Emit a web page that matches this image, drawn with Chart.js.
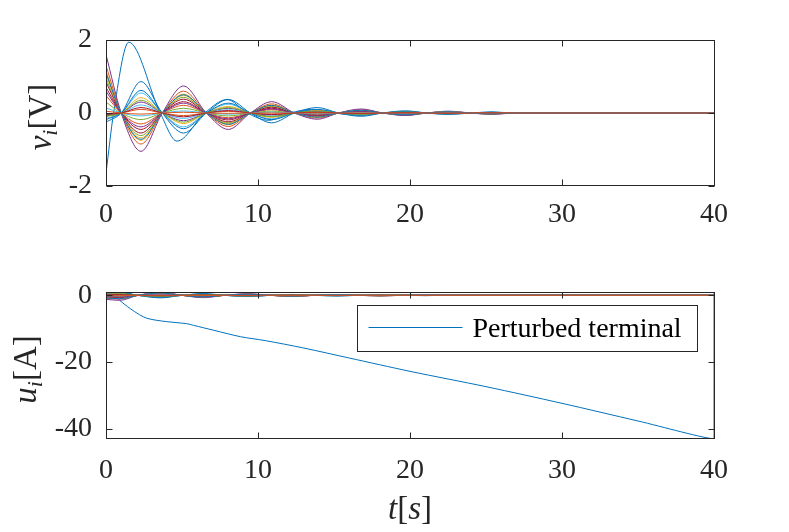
<!DOCTYPE html>
<html>
<head>
<meta charset="utf-8">
<script src="https://cdn.jsdelivr.net/npm/chart.js@4.4.1/dist/chart.umd.min.js"></script>
<style>
  html, body { margin: 0; padding: 0; background: #fff; }
  #wrap { position: relative; width: 789px; height: 532px; }
  #topChart { position: absolute; left: 0; top: 0; }
  #botChart { position: absolute; left: 0; top: 250px; }
</style>
</head>
<body>
<div id="wrap">
  <canvas id="topChart" width="789" height="250"></canvas>
  <canvas id="botChart" width="789" height="282"></canvas>
</div>
<script>
// MATLAB default line colours, cycled per line
const lineColors = ['#0072BD', '#D95319', '#EDB120', '#7E2F8E', '#77AC30', '#4DBEEE', '#A2142F'];

const xTicks = [0, 10, 20, 30, 40];
const vTicks = [-2, 0, 2];
const uTicks = [-40, -20, 0];

const legendLabel = 'Perturbed terminal';

// top panel: perturbed terminal voltage
const pertVTimes = [0, 0.5, 1.5, 3.57, 4.67, 6.5, 7.96, 9.3, 10.7, 12.1, 13.6, 15.0, 16.4, 17.9, 40];
const pertV = [-1.65, 0, 1.94, 0, -0.77, 0, 0.37, 0, -0.2, 0, 0.1, 0, -0.05, 0, 0];

// top panel: other terminals, times of the zero crossings / peaks
const vTimes = [0, 1.0, 2.3, 3.7, 5.1, 6.6, 8.05, 9.5, 10.9, 12.4, 13.9, 15.3, 16.8, 18.2, 19.7, 21.1, 22.5, 24.0, 25.4, 26.9, 40];
// each row: start value, then the peak of every half swing
const vSwings = [
  [1.30, -0.85, 0.60, -0.37, 0.25, -0.14, 0.09, -0.06, 0.04, -0.03],
  [1.15, -0.75, 0.52, -0.32, 0.22, -0.12, 0.08, -0.05, 0.035, -0.027],
  [1.60, -1.05, 0.74, -0.45, 0.31, -0.17, 0.11, -0.07, 0.05, -0.04],
  [0.95, -0.62, 0.43, -0.27, 0.18, -0.10, 0.065, -0.04, 0.03, -0.02],
  [-0.15, 0.55, -0.38, 0.24, -0.16, 0.09, -0.06, 0.04, -0.026, 0.02],
  [0.70, -0.45, 0.31, -0.19, 0.13, -0.07, 0.05, -0.03, 0.02, -0.016],
  [-0.25, 0.86, -0.55, 0.37, -0.27, 0.15, -0.09, 0.06, -0.04, 0.03],
  [0.48, -0.30, 0.21, -0.13, 0.09, -0.05, 0.03, -0.02, 0.014, -0.011],
  [-0.10, 0.42, -0.29, 0.18, -0.12, 0.07, -0.045, 0.03, -0.02, 0.015],
  [-0.08, 0.30, -0.21, 0.13, -0.09, 0.05, -0.03, 0.02, -0.014, 0.011],
  [0.30, -0.18, 0.13, -0.08, 0.05, -0.03, 0.02, -0.012, 0.008, -0.006],
  [-0.05, 0.22, -0.15, 0.09, -0.06, 0.035, -0.023, 0.015, -0.01, 0.008],
  [0.85, -0.55, 0.38, -0.24, 0.16, -0.09, 0.058, -0.037, 0.026, -0.02],
  [-0.18, 0.62, -0.43, 0.27, -0.18, 0.10, -0.065, 0.042, -0.03, 0.022],
  [-0.03, 0.10, -0.07, 0.045, -0.03, 0.016, -0.01, 0.007, -0.005, 0.004],
  [1.05, -0.68, 0.48, -0.29, 0.20, -0.11, 0.07, -0.046, 0.032, -0.024],
  [0.60, -0.38, 0.27, -0.16, 0.11, -0.06, 0.04, -0.026, 0.018, -0.014],
  [-0.09, 0.35, -0.25, 0.15, -0.10, 0.056, -0.037, 0.024, -0.016, 0.013],
  [0.14, -0.08, 0.056, -0.034, 0.023, -0.013, 0.008, -0.005, 0.004, -0.003],
  [-0.04, 0.15, -0.105, 0.065, -0.044, 0.024, -0.016, 0.01, -0.007, 0.005],
  [1.10, -0.72, 0.50, -0.31, 0.21, -0.115, 0.075, -0.05, 0.034, -0.026],
  [0.05, -0.03, 0.02, -0.01, 0, 0, 0, 0, 0, 0]
];

// bottom panel: perturbed terminal current
const pertUTimes = [0, 0.6, 0.9, 1.6, 2.2, 2.7, 3.35, 4.0, 4.67, 5.3, 5.76, 7.1, 8.84, 10.5, 13.0, 16.0, 20.0, 25.0, 30.0, 35.0, 40.0, 40.0];
const pertU = [0.6, 0, -1.5, -4.0, -5.8, -6.9, -7.5, -7.9, -8.2, -8.5, -9.0, -10.5, -12.4, -13.6, -15.8, -18.8, -22.8, -27.4, -32.4, -37.7, -43.0, 0.9];

// bottom panel: other terminals (start value, then the peaks)
const uTimes = [0, 0.9, 2.1, 3.6, 5.0, 6.4, 7.8, 9.35, 10.8, 12.3, 13.7, 15.2, 16.6, 18.05, 19.5, 21.0, 22.4, 40];
const uSwings = [
  [-0.9, -1.1, 0.8, -0.55, 0.4, -0.28, 0.2, -0.13, 0.09],
  [-0.8, -1.0, 0.7, -0.5, 0.35, -0.25, 0.17, -0.12, 0.08],
  [-1.2, -1.5, 1.0, -0.7, 0.5, -0.35, 0.25, -0.17, 0.12],
  [-0.7, -0.85, 0.6, -0.42, 0.3, -0.2, 0.14, -0.1, 0.07],
  [0.5, 0.7, -0.5, 0.35, -0.25, 0.17, -0.12, 0.08, -0.06],
  [-0.5, -0.6, 0.42, -0.3, 0.21, -0.15, 0.1, -0.07, 0.05],
  [0.9, 1.1, -0.75, 0.55, -0.38, 0.27, -0.19, 0.13, -0.09],
  [-0.3, -0.4, 0.28, -0.2, 0.14, -0.1, 0.07, -0.05, 0.03],
  [0.4, 0.55, -0.38, 0.27, -0.19, 0.13, -0.09, 0.06, -0.04],
  [0.3, 0.4, -0.28, 0.2, -0.14, 0.1, -0.07, 0.05, -0.03],
  [-0.2, -0.25, 0.17, -0.12, 0.09, -0.06, 0.04, -0.03, 0.02],
  [0.2, 0.3, -0.2, 0.15, -0.1, 0.07, -0.05, 0.035, -0.025],
  [-0.6, -0.75, 0.52, -0.37, 0.26, -0.18, 0.13, -0.09, 0.06],
  [0.7, 0.85, -0.6, 0.42, -0.3, 0.2, -0.14, 0.1, -0.07],
  [0.1, 0.12, -0.08, 0.06, -0.04, 0.03, -0.02, 0.015, -0.01],
  [-0.75, -0.95, 0.66, -0.46, 0.32, -0.23, 0.16, -0.11, 0.08],
  [-0.4, -0.5, 0.35, -0.25, 0.17, -0.12, 0.08, -0.06, 0.04],
  [0.35, 0.45, -0.32, 0.22, -0.16, 0.11, -0.08, 0.05, -0.04],
  [-0.1, -0.12, 0.08, -0.06, 0.04, -0.03, 0.02, -0.015, 0.01],
  [0.15, 0.2, -0.14, 0.1, -0.07, 0.05, -0.035, 0.025, -0.018],
  [-0.8, -1.0, 0.7, -0.49, 0.34, -0.24, 0.17, -0.12, 0.08],
  [-0.1, -0.1, 0.05, -0.03, 0, 0, 0, 0, 0]
];

const serif = '"Liberation Serif", "Times New Roman", serif';
const inkColor = '#262626';

function toPoints(times, vals) {
  return times.map((t, i) => ({ x: t, y: vals[i] }));
}

// start, zero, peak, zero, peak ... zero
function voltageRow(row) {
  const vals = [row[0]];
  row.slice(1).forEach(p => vals.push(0, p));
  while (vals.length < vTimes.length) vals.push(0);
  return toPoints(vTimes, vals);
}

// start, peak, zero, peak, zero ... zero
function currentRow(row) {
  const vals = [row[0], row[1]];
  row.slice(2).forEach(p => vals.push(0, p));
  while (vals.length < uTimes.length) vals.push(0);
  return toPoints(uTimes, vals);
}

function lineSet(data, i, n, extra) {
  return Object.assign({
    data,
    borderColor: lineColors[i % lineColors.length],
    borderWidth: 1,
    pointRadius: 0,
    fill: false,
    cubicInterpolationMode: 'monotone',
    order: n - i   // later lines drawn on top, like MATLAB
  }, extra || {});
}

const topSets = [lineSet(toPoints(pertVTimes, pertV), 0, vSwings.length + 1, { label: legendLabel })];
vSwings.forEach((row, k) => topSets.push(lineSet(voltageRow(row), k + 1, vSwings.length + 1)));

const botSets = [lineSet(toPoints(pertUTimes, pertU), 0, uSwings.length + 1, { label: legendLabel, cubicInterpolationMode: 'default', tension: 0.3 })];
uSwings.forEach((row, k) => botSets.push(lineSet(currentRow(row), k + 1, uSwings.length + 1)));

// box with inward tick marks, MATLAB style
const framePlugin = {
  id: 'frame',
  afterDatasetsDraw(chart) {
    const { ctx, chartArea: a, scales } = chart;
    const L = Math.round(a.left) + 0.5, R = Math.round(a.right) + 0.5;
    const T = Math.round(a.top) + 0.5, B = Math.round(a.bottom) - 0.5;
    ctx.save();
    ctx.strokeStyle = inkColor;
    ctx.lineWidth = 1;
    ctx.strokeRect(L, T, R - L, B - T);
    ctx.beginPath();
    scales.x.ticks.forEach(t => {
      const px = Math.round(scales.x.getPixelForValue(t.value)) + 0.5;
      ctx.moveTo(px, B); ctx.lineTo(px, B - 6);
      ctx.moveTo(px, T); ctx.lineTo(px, T + 6);
    });
    scales.y.ticks.forEach(t => {
      const py = Math.round(scales.y.getPixelForValue(t.value)) + 0.5;
      ctx.moveTo(L, py); ctx.lineTo(L + 6, py);
      ctx.moveTo(R, py); ctx.lineTo(R - 6, py);
    });
    ctx.stroke();
    ctx.restore();
  }
};

function drawMixed(ctx, parts, x, y, rot) {
  ctx.save();
  ctx.translate(x, y);
  ctx.rotate(rot);
  let total = 0;
  parts.forEach(p => { ctx.font = p.font; total += ctx.measureText(p.text).width; });
  let cx = -total / 2;
  ctx.textBaseline = 'alphabetic';
  ctx.textAlign = 'left';
  ctx.fillStyle = inkColor;
  parts.forEach(p => {
    ctx.font = p.font;
    ctx.fillText(p.text, cx, p.dy || 0);
    cx += ctx.measureText(p.text).width;
  });
  ctx.restore();
}

const big = '33px ' + serif, bigIt = 'italic 33px ' + serif, subIt = 'italic 22px ' + serif;

const titlePlugin = {
  id: 'titles',
  afterDraw(chart, args, opts) {
    const ctx = chart.ctx;
    const a = chart.chartArea;
    drawMixed(ctx, [
      { text: opts.sym, font: bigIt },
      { text: 'i', font: subIt, dy: 6 },
      { text: '[' + opts.unit + ']', font: big }
    ], opts.yx, (a.top + a.bottom) / 2 + 4, -Math.PI / 2);
    if (opts.xlabel) {
      drawMixed(ctx, [
        { text: 't', font: bigIt },
        { text: '[', font: big },
        { text: 's', font: bigIt },
        { text: ']', font: big }
      ], (a.left + a.right) / 2, a.bottom + 80, 0);
    }
  }
};

const legendPlugin = {
  id: 'boxLegend',
  afterDraw(chart, args, opts) {
    if (!opts.show) return;
    const { ctx, chartArea: a } = chart;
    const ds = chart.data.datasets[0];
    const w = 340, h = 46;
    const x = Math.round(a.right - 17 - w) + 0.5, y = Math.round(a.top + 13) + 0.5;
    ctx.save();
    ctx.fillStyle = '#fff';
    ctx.fillRect(x, y, w, h);
    ctx.strokeStyle = inkColor;
    ctx.lineWidth = 1;
    ctx.strokeRect(x, y, w, h);
    ctx.strokeStyle = ds.borderColor;
    ctx.beginPath();
    ctx.moveTo(x + 11, y + 22);
    ctx.lineTo(x + 105, y + 22);
    ctx.stroke();
    ctx.fillStyle = '#000';
    ctx.font = '28px ' + serif;
    ctx.textBaseline = 'alphabetic';
    ctx.fillText(ds.label, x + 115, y + 31);
    ctx.restore();
  }
};

function panel(id, datasets, yMin, yMax, yTicks, pad, xAxisH, xPad, titles, showLegend) {
  return new Chart(document.getElementById(id), {
    type: 'line',
    data: { datasets },
    options: {
      responsive: false,
      animation: false,
      devicePixelRatio: 1,
      layout: { padding: pad },
      plugins: {
        legend: { display: false },
        tooltip: { enabled: false },
        titles,
        boxLegend: { show: showLegend }
      },
      scales: {
        x: {
          type: 'linear', min: 0, max: 40,
          grid: { display: false, drawTicks: false },
          border: { display: false },
          afterBuildTicks: s => { s.ticks = xTicks.map(v => ({ value: v })); },
          afterFit: s => { s.height = xAxisH; },
          ticks: { padding: xPad, color: inkColor, font: { family: serif, size: 28 }, maxRotation: 0 }
        },
        y: {
          type: 'linear', min: yMin, max: yMax,
          grid: { display: false, drawTicks: false },
          border: { display: false },
          afterBuildTicks: s => { s.ticks = yTicks.map(v => ({ value: v })); },
          afterFit: s => { s.width = 106; },
          ticks: { padding: 14, color: inkColor, font: { family: serif, size: 28 } }
        }
      }
    },
    plugins: [framePlugin, titlePlugin, legendPlugin]
  });
}

panel('topChart', topSets, -2, 2, vTicks,
  { left: 0, right: 75, top: 40, bottom: 0 }, 64, 12,
  { sym: 'v', unit: 'V', yx: 51 }, false);

panel('botChart', botSets, -43.1, 1, uTicks,
  { left: 0, right: 75, top: 42, bottom: 0 }, 93, 15,
  { sym: 'u', unit: 'A', yx: 36, xlabel: true }, true);
</script>
</body>
</html>
